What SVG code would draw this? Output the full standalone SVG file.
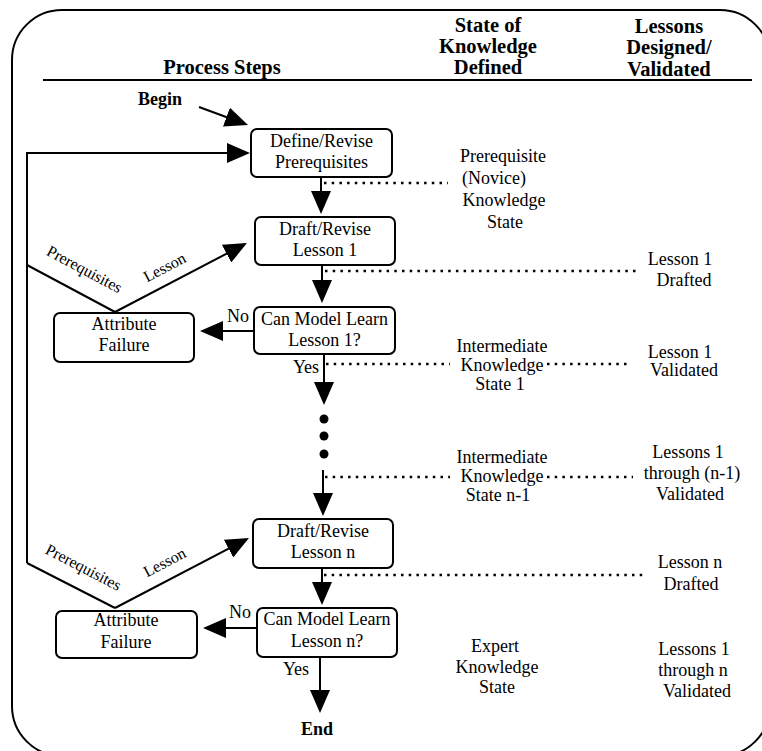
<svg xmlns="http://www.w3.org/2000/svg" width="762" height="751" viewBox="0 0 762 751">
<style>
text{font-family:"Liberation Serif","DejaVu Serif",serif;fill:#000;}
.t{font-size:18px;text-anchor:middle;}
.h{font-size:20.5px;font-weight:bold;text-anchor:middle;}
.b{font-size:18px;font-weight:bold;text-anchor:middle;}
.r{font-size:16px;text-anchor:middle;}
.box{fill:#fff;stroke:#000;stroke-width:2;}
.ln{fill:none;stroke:#000;stroke-width:2;}
.ar{fill:none;stroke:#000;stroke-width:2;marker-end:url(#ah);}
.dot{fill:none;stroke:#000;stroke-width:2.5;stroke-dasharray:2.5 5.2;}
</style>
<defs>
<marker id="ah" markerUnits="userSpaceOnUse" markerWidth="24" markerHeight="20" refX="20" refY="10" orient="auto">
<path d="M0,0 L23,10 L0,20 z" fill="#000"/>
</marker>
</defs>
<rect x="12" y="10" width="758" height="746" rx="50" ry="50" fill="#fff" stroke="#000" stroke-width="2"/>
<g id="headers">
<text class="h" x="222" y="74">Process Steps</text>
<text class="h" x="488" y="32">State of</text>
<text class="h" x="488" y="53">Knowledge</text>
<text class="h" x="488" y="74">Defined</text>
<text class="h" x="669" y="33">Lessons</text>
<text class="h" x="669" y="54">Designed/</text>
<text class="h" x="669" y="76">Validated</text>
<line class="ln" x1="43" y1="80" x2="752" y2="80"/>
</g>
<g id="connectors">
<line class="ar" x1="199" y1="107" x2="245.2" y2="124"/>
<polyline class="ar" points="27,563 27,153 247,153"/>
<line class="ln" x1="27" y1="265" x2="115" y2="312"/>
<line class="ar" x1="115" y1="312" x2="244.3" y2="244.4"/>
<line class="ln" x1="27" y1="563" x2="115" y2="608"/>
<line class="ar" x1="115" y1="608" x2="246.3" y2="539.4"/>
<line class="ar" x1="321" y1="177" x2="321" y2="211"/>
<line class="ar" x1="322" y1="265" x2="322" y2="300"/>
<line class="ar" x1="324" y1="354" x2="324" y2="402"/>
<line class="ar" x1="323" y1="470" x2="323" y2="513"/>
<line class="ar" x1="322" y1="568" x2="322" y2="602"/>
<line class="ar" x1="320" y1="657" x2="320" y2="710"/>
<line class="ar" x1="254" y1="331" x2="203" y2="331"/>
<line class="ar" x1="257" y1="628" x2="206" y2="628"/>
<circle cx="324" cy="419" r="4.5" fill="#000"/>
<circle cx="324" cy="436" r="4.5" fill="#000"/>
<circle cx="324" cy="454" r="4.5" fill="#000"/>
<line class="dot" x1="324" y1="183" x2="448" y2="183"/>
<line class="dot" x1="325" y1="271" x2="638" y2="271"/>
<line class="dot" x1="326" y1="364" x2="450" y2="364"/>
<line class="dot" x1="547" y1="364" x2="628" y2="364"/>
<line class="dot" x1="325" y1="477" x2="450" y2="477"/>
<line class="dot" x1="547" y1="477" x2="633" y2="477"/>
<line class="dot" x1="324" y1="575" x2="647" y2="575"/>
</g>
<g id="labels">
<text class="b" x="160" y="105">Begin</text>
<text class="b" x="317" y="735">End</text>
<text class="t" x="238" y="322">No</text>
<text class="t" x="240" y="618">No</text>
<text class="t" x="306" y="373">Yes</text>
<text class="t" x="296" y="675">Yes</text>
<text class="r" transform="translate(82,274) rotate(28.1)">Prerequisites</text>
<text class="r" transform="translate(167,272) rotate(-27.6)">Lesson</text>
<text class="r" transform="translate(81,572) rotate(27.5)">Prerequisites</text>
<text class="r" transform="translate(167,567) rotate(-27.6)">Lesson</text>
</g>
<g id="n-define">
<rect class="box" x="251" y="129" width="141" height="48" rx="6"/>
<text class="t" x="321.5" y="147">Define/Revise</text>
<text class="t" x="321.5" y="168">Prerequisites</text>
</g>
<g id="n-draft1">
<rect class="box" x="255" y="217" width="140" height="48" rx="6"/>
<text class="t" x="325" y="235">Draft/Revise</text>
<text class="t" x="325" y="256">Lesson 1</text>
</g>
<g id="n-can1">
<rect class="box" x="254" y="307" width="141" height="47" rx="6"/>
<text class="t" x="324.5" y="325">Can Model Learn</text>
<text class="t" x="324.5" y="346">Lesson 1?</text>
</g>
<g id="n-attr1">
<rect class="box" x="54" y="313" width="140" height="49" rx="6"/>
<text class="t" x="124" y="330">Attribute</text>
<text class="t" x="124" y="351">Failure</text>
</g>
<g id="n-draftn">
<rect class="box" x="253" y="519" width="140" height="49" rx="6"/>
<text class="t" x="323" y="537">Draft/Revise</text>
<text class="t" x="323" y="558">Lesson n</text>
</g>
<g id="n-cann">
<rect class="box" x="257" y="608" width="140" height="49" rx="6"/>
<text class="t" x="327" y="625">Can Model Learn</text>
<text class="t" x="327" y="647">Lesson n?</text>
</g>
<g id="n-attrn">
<rect class="box" x="56" y="611" width="141" height="47" rx="6"/>
<text class="t" x="126" y="626">Attribute</text>
<text class="t" x="126" y="648">Failure</text>
</g>
<g id="s-prereq">
<text class="t" x="503" y="162">Prerequisite</text>
<text class="t" x="494" y="184">(Novice)</text>
<text class="t" x="504" y="206">Knowledge</text>
<text class="t" x="505" y="228">State</text>
</g>
<g id="l-draft1">
<text class="t" x="680" y="265">Lesson 1</text>
<text class="t" x="684" y="286">Drafted</text>
</g>
<g id="s-int1">
<text class="t" x="502" y="352">Intermediate</text>
<text class="t" x="502" y="371">Knowledge</text>
<text class="t" x="500" y="390">State 1</text>
</g>
<g id="l-valid1">
<text class="t" x="680" y="358">Lesson 1</text>
<text class="t" x="684" y="376">Validated</text>
</g>
<g id="s-intn">
<text class="t" x="502" y="463">Intermediate</text>
<text class="t" x="502" y="482">Knowledge</text>
<text class="t" x="498" y="501">State n-1</text>
</g>
<g id="l-validn1">
<text class="t" x="688" y="458">Lessons 1</text>
<text class="t" x="692" y="479">through (n-1)</text>
<text class="t" x="690" y="500">Validated</text>
</g>
<g id="l-draftn">
<text class="t" x="690" y="568">Lesson n</text>
<text class="t" x="691" y="590">Drafted</text>
</g>
<g id="s-expert">
<text class="t" x="495" y="652">Expert</text>
<text class="t" x="497" y="673">Knowledge</text>
<text class="t" x="497" y="693">State</text>
</g>
<g id="l-validn">
<text class="t" x="694" y="655">Lessons 1</text>
<text class="t" x="693" y="676">through n</text>
<text class="t" x="697" y="697">Validated</text>
</g>
</svg>
